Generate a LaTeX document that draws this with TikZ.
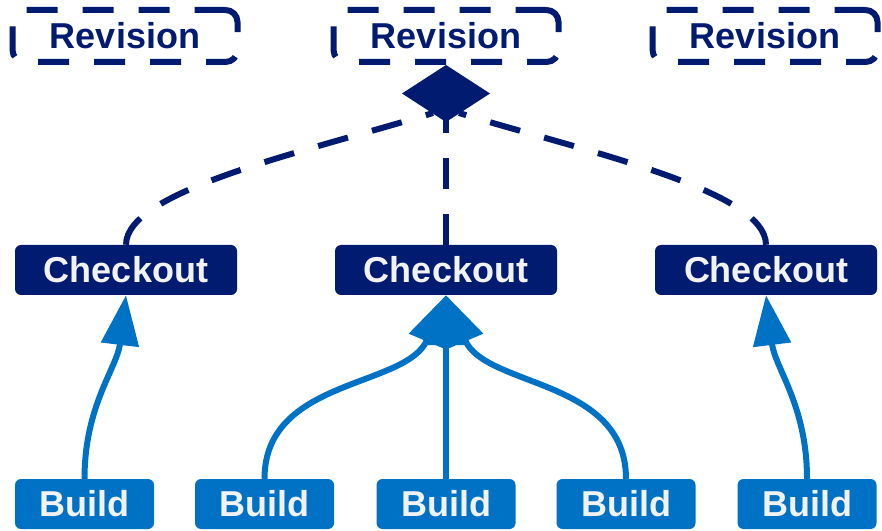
\documentclass[tikz,border=0pt]{standalone}
\usepackage{fontspec}
\setmainfont{Liberation Sans}
\usetikzlibrary{arrows.meta}
\definecolor{navy}{RGB}{0,27,112}
\definecolor{buildblue}{RGB}{0,114,198}
\definecolor{paper}{RGB}{242,242,242}

\tikzstyle{boxfont} = [font=\fontsize{36}{40}\selectfont\bfseries]
\tikzstyle{revision} = [rectangle, rounded corners=12pt, minimum width=225pt, minimum height=52pt, draw=navy, line width=6pt, dash pattern=on 31pt off 25pt, text=navy, boxfont]
\tikzstyle{checkout} = [rectangle, rounded corners=6pt, minimum width=222pt, minimum height=50pt, fill=navy, text=paper, boxfont]
\tikzstyle{build} = [rectangle, rounded corners=6pt, minimum width=139pt, minimum height=50pt, fill=buildblue, text=paper, boxfont]
\tikzstyle{link} = [line width=6pt, draw=navy, dash pattern=on 31pt off 25pt]
\tikzstyle{uses} = [line width=6pt, draw=buildblue, -{Triangle[length=50pt,width=37pt]}]

\begin{document}
\begin{tikzpicture}[x=1pt, y=1pt, node distance = 234pt]
	\useasboundingbox (0,0) rectangle (882,530);
	% Place nodes
	\node [revision] (rev2) at (446,494) {Revision};
	\node [revision, left of=rev2, node distance=321pt] (rev1) {Revision};
	\node [revision, right of=rev2, node distance=319pt] (rev3) {Revision};
	\node [checkout, below of=rev1, xshift=1pt] (chk1) {Checkout};
	\node [checkout, below of=rev2] (chk2) {Checkout};
	\node [checkout, below of=rev3, xshift=1pt] (chk3) {Checkout};
	\node [build, below of=chk1, xshift=-41.5pt] (b1) {Build};
	\node [build, right of=b1, node distance=180pt] (b2) {Build};
	\node [build, below of=chk2] (b3) {Build};
	\node [build, right of=b3, node distance=180pt] (b4) {Build};
	\node [build, right of=b4, node distance=181pt] (b5) {Build};
	\coordinate (joinL) at ([xshift=-13pt, yshift=-48pt]rev2.south);
	\coordinate (joinR) at ([xshift=13pt, yshift=-48pt]rev2.south);
	% Draw edges
	\draw [link] (chk1.north) to[out=90, in=197, out looseness=0.42, in looseness=1] (joinL);
	\draw [link] (chk3.north) to[out=90, in=-17, out looseness=0.42, in looseness=1] (joinR);
	\draw [link, -{Diamond[length=57pt, width=88pt]}] (chk2) -- (rev2);
	\draw [uses] (b1.north) to[out=90, in=-97] (chk1.south);
	\draw [uses] (b2.north) to[out=90, in=-113] (chk2.south);
	\draw [uses] (b3) -- (chk2);
	\draw [uses] (b4.north) to[out=90, in=-67] (chk2.south);
	\draw [uses] (b5.north) to[out=90, in=-83] (chk3.south);
\end{tikzpicture}
\end{document}
